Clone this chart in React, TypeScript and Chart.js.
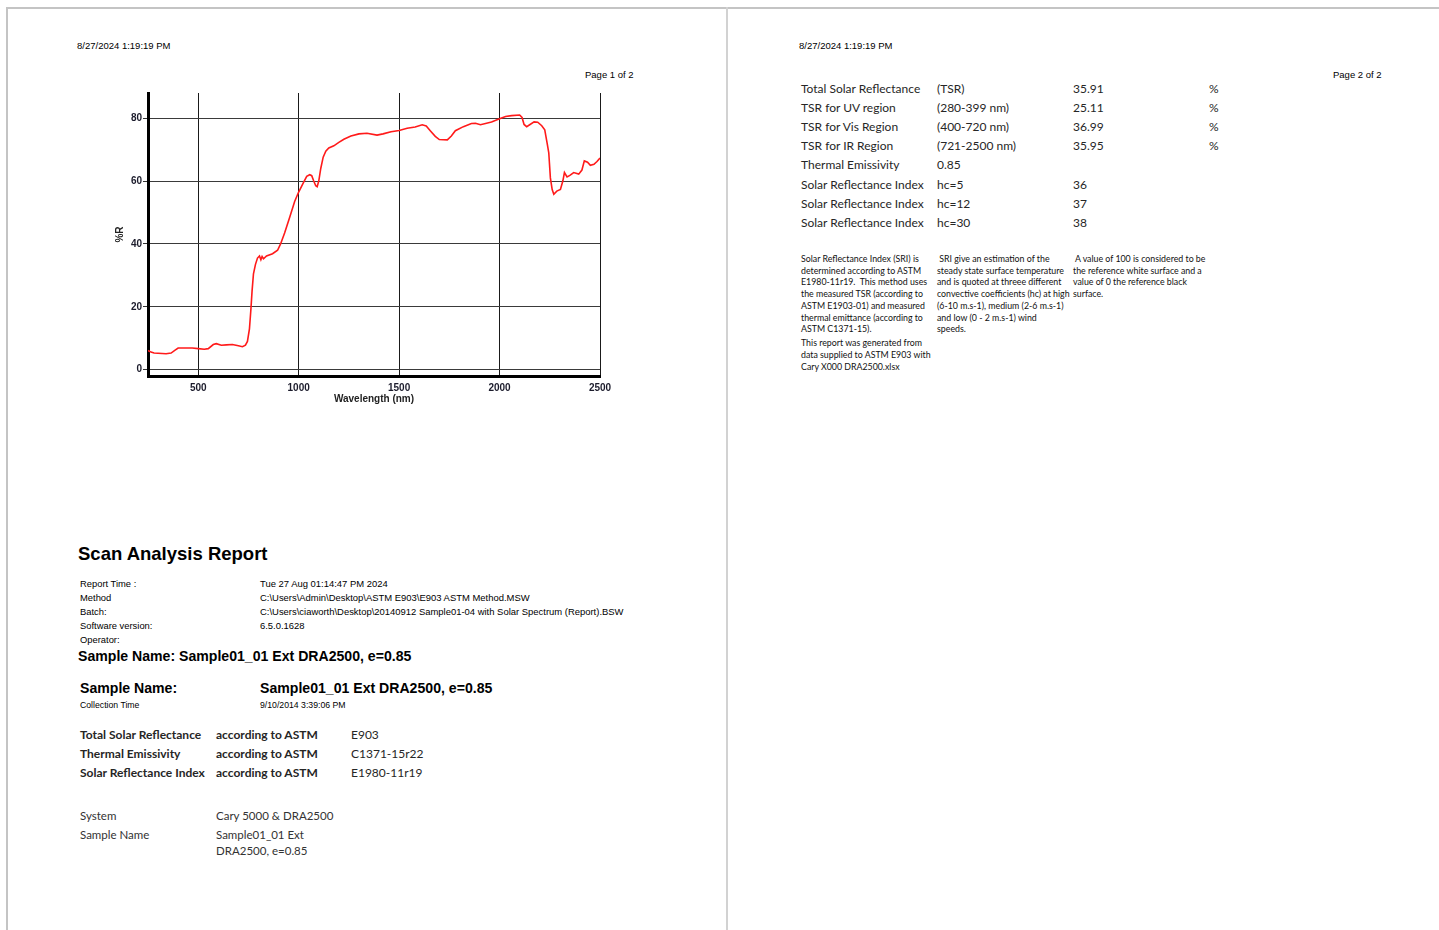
import React, { useEffect, useRef } from "react";
import { Chart, registerables } from "chart.js";

Chart.register(...registerables);

// ---- chart data ----
const wavelengths = [
  250, 265, 280, 340, 365, 385, 400, 470, 500, 530, 550, 575, 590, 615, 640, 670, 700, 720, 735, 745,
  755, 762, 768, 775, 785, 795, 805, 812, 818, 825, 840, 870, 895, 910, 930, 955, 980, 1000, 1020, 1040,
  1055, 1065, 1075, 1085, 1092, 1100, 1110, 1122, 1135, 1150, 1175, 1200, 1225, 1260, 1300, 1340, 1390, 1420, 1460, 1500,
  1540, 1580, 1615, 1635, 1655, 1680, 1700, 1740, 1760, 1780, 1820, 1860, 1880, 1905, 1930, 1960, 2000, 2030, 2060, 2100,
  2112, 2122, 2135, 2150, 2172, 2190, 2210, 2225, 2237, 2245, 2253, 2262, 2270, 2285, 2303, 2315, 2323, 2336, 2350, 2369,
  2394, 2410, 2422, 2438, 2452, 2470, 2485, 2500,
];
const reflectance = [
  6.1, 5.6, 5.3, 5.1, 5.3, 6.2, 6.9, 6.9, 6.7, 6.5, 6.7, 8.0, 8.3, 7.8, 7.9, 8.0, 7.6, 7.3, 7.8, 9.0,
  13.0, 19.0, 25.0, 30.5, 33.5, 35.5, 36.2, 35.0, 36.0, 35.3, 36.2, 36.9, 38.0, 40.0, 43.5, 48.4, 53.5, 56.5, 59.0, 61.5,
  62.0, 61.7, 60.0, 58.5, 58.2, 60.0, 64.0, 67.6, 69.5, 70.5, 71.2, 72.3, 73.3, 74.3, 75.0, 75.2, 74.6, 75.0, 75.7, 76.1,
  76.8, 77.2, 77.9, 77.5, 76.0, 74.2, 73.2, 73.1, 74.3, 76.0, 77.3, 78.3, 78.4, 77.9, 78.3, 78.8, 79.8, 80.5, 80.8, 81.0,
  80.2, 78.0, 77.3, 77.9, 78.8, 78.7, 77.6, 76.3, 72.0, 69.0, 61.0, 57.3, 55.8, 56.8, 57.3, 60.0, 62.7, 61.3, 61.8, 62.7,
  62.2, 63.5, 66.4, 66.0, 65.0, 65.3, 66.2, 67.3,
];
const xTicks = [500, 1000, 1500, 2000, 2500];
const yTicks = [0, 20, 40, 60, 80];
const xTitle = "Wavelength (nm)";
const yTitle = "%R";

// ---- report texts ----
const printDate = "8/27/2024 1:19:19 PM";
const page1 = "Page 1 of 2";
const page2 = "Page 2 of 2";
const reportTitle = "Scan Analysis Report";
const reportLabels = ["Report Time :", "Method", "Batch:", "Software version:", "Operator:"];
const reportValues = [
  "Tue 27 Aug 01:14:47 PM 2024",
  "C:\\Users\\Admin\\Desktop\\ASTM E903\\E903 ASTM Method.MSW",
  "C:\\Users\\ciaworth\\Desktop\\20140912 Sample01-04 with Solar Spectrum (Report).BSW",
  "6.5.0.1628",
  "",
];
const sampleName = "Sample01_01 Ext DRA2500, e=0.85";
const collectionTime = "9/10/2014 3:39:06 PM";
const methodNames = ["Total Solar Reflectance", "Thermal Emissivity", "Solar Reflectance Index"];
const methodStd = ["E903", "C1371-15r22", "E1980-11r19"];
const systemName = "Cary 5000 & DRA2500";
const sampleLines = ["Sample01_01 Ext", "DRA2500, e=0.85"];

const resLabels = [
  "Total Solar Reflectance", "TSR for UV region", "TSR for Vis Region", "TSR for IR Region",
  "Thermal Emissivity", "Solar Reflectance Index", "Solar Reflectance Index", "Solar Reflectance Index",
];
const resSub = ["(TSR)", "(280-399 nm)", "(400-720 nm)", "(721-2500 nm)", "0.85", "hc=5", "hc=12", "hc=30"];
const resValues = ["35.91", "25.11", "36.99", "35.95", "", "36", "37", "38"];
const resUnits = ["%", "%", "%", "%", "", "", "", ""];

const note1 = [
  "Solar Reflectance Index (SRI) is",
  "determined according to ASTM",
  "E1980-11r19.  This method uses",
  "the measured TSR (according to",
  "ASTM E1903-01) and measured",
  "thermal emittance (according to",
  "ASTM C1371-15).",
];
const note1b = ["This report was generated from", "data supplied to ASTM E903 with", "Cary X000 DRA2500.xlsx"];
const note2 = [
  " SRI give an estimation of the",
  "steady state surface temperature",
  "and is quoted at threee different",
  "convective coefficients (hc) at high",
  "(6-10 m.s-1), medium (2-6 m.s-1)",
  "and low (0 - 2 m.s-1) wind",
  "speeds.",
];
const note3 = [
  " A value of 100 is considered to be",
  "the reference white surface and a",
  "value of 0 the reference black",
  "surface.",
];

const ARIAL = "'Liberation Sans', Arial, sans-serif";
const CAL = "Lato, 'Open Sans', sans-serif";

function T(props: {
  x: number; y: number; size: number; bold?: boolean; font?: string; color?: string; children: React.ReactNode;
}) {
  const { x, y, size, bold, font, color, children } = props;
  const shift = font ? 0 : size < 12 ? 1 : 0;
  return (
    <div
      style={{
        position: "absolute",
        left: x,
        top: y + shift - size * 0.6,
        fontSize: size,
        lineHeight: `${size * 1.2}px`,
        fontFamily: font || ARIAL,
        fontWeight: bold ? 700 : 400,
        color: color || "#000",
        whiteSpace: "pre",
      }}
    >
      {children}
    </div>
  );
}

function SpectrumChart() {
  const ref = useRef<HTMLCanvasElement | null>(null);
  useEffect(() => {
    if (!ref.current) return;
    const points = wavelengths.map((w, i) => ({ x: w, y: reflectance[i] }));
    const tickFont = { family: ARIAL, size: 10, weight: "bold" as const };
    const chart = new Chart(ref.current, {
      type: "line",
      data: {
        datasets: [
          {
            data: points,
            borderColor: "#ff1a1a",
            borderWidth: 1.6,
            pointRadius: 0,
            tension: 0,
            fill: false,
          },
        ],
      },
      options: {
        animation: false,
        responsive: false,
        events: [],
        layout: { padding: { left: 0, right: 20, top: 7, bottom: 0 } },
        plugins: { legend: { display: false }, tooltip: { enabled: false } },
        scales: {
          x: {
            type: "linear",
            min: 250,
            max: 2500,
            afterBuildTicks: (s: any) => {
              s.ticks = xTicks.map((v) => ({ value: v }));
            },
            afterFit: (s: any) => {
              s.height = 40;
            },
            ticks: {
              font: tickFont,
              color: "#1c1c2c",
              padding: 6,
              maxRotation: 0,
              autoSkip: false,
              callback: (v: any) => String(v),
            },
            grid: { color: "#1a1a1a", lineWidth: 1, drawTicks: false },
            border: { display: true, color: "#000", width: 3 },
            title: {
              display: true,
              text: xTitle,
              font: tickFont,
              color: "#222",
              padding: { top: 0, bottom: 11 },
            },
          },
          y: {
            type: "linear",
            min: -2,
            max: 88,
            afterBuildTicks: (s: any) => {
              s.ticks = yTicks.map((v) => ({ value: v }));
            },
            afterFit: (s: any) => {
              s.width = 48;
            },
            ticks: { font: tickFont, color: "#1c1c2c", padding: 1, autoSkip: false, callback: (v: any) => String(v) },
            grid: { color: "#3a3a3a", lineWidth: 1, drawTicks: true, tickLength: 5, tickColor: "#333" },
            border: { display: true, color: "#000", width: 3 },
            title: {
              display: true,
              text: yTitle,
              font: tickFont,
              color: "#222",
              padding: { top: 14, bottom: 0 },
            },
          },
        },
      },
    });
    return () => chart.destroy();
  }, []);
  return (
    <canvas
      ref={ref}
      width={520}
      height={330}
      style={{ position: "absolute", left: 100, top: 86, width: 520, height: 330 }}
    />
  );
}

export default function App() {
  useEffect(() => {
    document.body.style.margin = "0";
  }, []);
  const rowY = [583, 597, 611, 625, 639];
  const methY = [735, 754, 773];
  const resY = [89, 108, 127, 146, 165, 185, 204, 223];
  const noteY = [259, 271, 282, 294, 306, 318, 329];
  const noteBY = [343, 355, 367];
  const tc = "#262626";
  return (
    <div
      style={{
        position: "absolute",
        left: 0,
        top: 0,
        width: 1439,
        height: 930,
        background: "#fff",
        overflow: "hidden",
      }}
    >
      {/* page frames */}
      <div style={{ position: "absolute", left: 6, top: 7, width: 1433, height: 2, background: "#c4c4c4" }} />
      <div style={{ position: "absolute", left: 6, top: 7, width: 2, height: 923, background: "#c4c4c4" }} />
      <div style={{ position: "absolute", left: 726, top: 7, width: 1.5, height: 923, background: "#d2d2d2" }} />

      {/* page 1 */}
      <T x={77} y={45} size={9.5}>{printDate}</T>
      <T x={585} y={74} size={9.5}>{page1}</T>
      <SpectrumChart />

      <T x={78} y={554} size={18.5} bold>{reportTitle}</T>
      {reportLabels.map((l, i) => (
        <T key={"rl" + i} x={80} y={rowY[i]} size={9.4}>{l}</T>
      ))}
      {reportValues.map((v, i) => (
        <T key={"rv" + i} x={260} y={rowY[i]} size={9.45}>{v}</T>
      ))}
      <T x={78} y={656} size={14.1} bold>{"Sample Name: " + sampleName}</T>
      <T x={80} y={688} size={14.1} bold>Sample Name:</T>
      <T x={260} y={688} size={14.1} bold>{sampleName}</T>
      <T x={80} y={704} size={8.7}>Collection Time</T>
      <T x={260} y={704} size={8.7}>{collectionTime}</T>

      {methodNames.map((m, i) => (
        <T key={"mn" + i} x={80} y={methY[i]} size={12} bold font={CAL} color={tc}>{m}</T>
      ))}
      {methodNames.map((_, i) => (
        <T key={"ma" + i} x={216} y={methY[i]} size={12} bold font={CAL} color={tc}>according to ASTM</T>
      ))}
      {methodStd.map((s, i) => (
        <T key={"ms" + i} x={351} y={methY[i]} size={12} font={CAL} color={tc}>{s}</T>
      ))}
      <T x={80} y={816} size={11.5} font={CAL} color="#333">System</T>
      <T x={216} y={816} size={11.5} font={CAL} color="#333">{systemName}</T>
      <T x={80} y={835} size={11.5} font={CAL} color="#333">Sample Name</T>
      <T x={216} y={835} size={11.5} font={CAL} color="#333">{sampleLines[0]}</T>
      <T x={216} y={851} size={11.5} font={CAL} color="#333">{sampleLines[1]}</T>

      {/* page 2 */}
      <T x={799} y={45} size={9.5}>{printDate}</T>
      <T x={1333} y={74} size={9.5}>{page2}</T>
      {resLabels.map((l, i) => (
        <T key={"r1" + i} x={801} y={resY[i]} size={12} font={CAL} color={tc}>{l}</T>
      ))}
      {resSub.map((l, i) => (
        <T key={"r2" + i} x={937} y={resY[i]} size={12} font={CAL} color={tc}>{l}</T>
      ))}
      {resValues.map((l, i) => (
        <T key={"r3" + i} x={1073} y={resY[i]} size={12} font={CAL} color={tc}>{l}</T>
      ))}
      {resUnits.map((l, i) => (
        <T key={"r4" + i} x={1209} y={resY[i]} size={12} font={CAL} color={tc}>{l}</T>
      ))}
      {note1.map((l, i) => (
        <T key={"n1" + i} x={801} y={noteY[i]} size={8.8} font={CAL} color="#111">{l}</T>
      ))}
      {note1b.map((l, i) => (
        <T key={"n1b" + i} x={801} y={noteBY[i]} size={8.8} font={CAL} color="#111">{l}</T>
      ))}
      {note2.map((l, i) => (
        <T key={"n2" + i} x={937} y={noteY[i]} size={8.8} font={CAL} color="#111">{l}</T>
      ))}
      {note3.map((l, i) => (
        <T key={"n3" + i} x={1073} y={noteY[i]} size={8.8} font={CAL} color="#111">{l}</T>
      ))}
    </div>
  );
}
